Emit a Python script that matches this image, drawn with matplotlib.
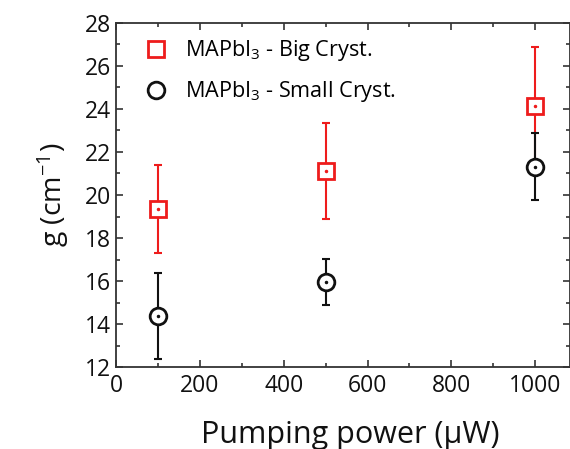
import matplotlib
matplotlib.use("Agg")
import matplotlib.pyplot as plt
from matplotlib.ticker import MultipleLocator

plt.rcParams.update({"font.family": ["Open Sans", "DejaVu Sans"], "mathtext.default": "regular",
                     "xtick.direction": "in", "ytick.direction": "in"})

power = [100, 500, 1000]
g_big = [19.35, 21.12, 24.15]
err_big = [2.05, 2.25, 2.72]
g_small = [14.38, 15.96, 21.32]
err_small = [2.0, 1.08, 1.55]

RED, BLK = "#ee1c1c", "#111111"

fig = plt.figure(figsize=(5.70, 4.49), dpi=100)
ax = fig.add_axes([0.2035, 0.1826, 0.7965, 0.7662])

for y, e, col, mk, lab in [(g_big, err_big, RED, "s", "MAPbI$_3$ - Big Cryst."),
                           (g_small, err_small, BLK, "o", "MAPbI$_3$ - Small Cryst.")]:
    ax.errorbar(power, y, yerr=e, fmt="none", ecolor=col, elinewidth=1.5, capsize=3, capthick=1.5, zorder=2)
    ax.plot(power, y, ls="none", marker=mk, ms=11 if mk == "s" else 12, mfc="white", mec=col, mew=2.0,
            zorder=3, label=lab)
    ax.plot(power, y, ls="none", marker=".", ms=3, color=col, zorder=4)

ax.set_xlim(0, 1083)
ax.set_ylim(12, 28)
ax.xaxis.set_major_locator(MultipleLocator(200)); ax.xaxis.set_minor_locator(MultipleLocator(100))
ax.yaxis.set_major_locator(MultipleLocator(2)); ax.yaxis.set_minor_locator(MultipleLocator(1))
ax.tick_params(which="both", top=True, right=True, labelsize=16.5, width=1.2, color="#333333",
               labelcolor="#111111")
ax.tick_params(which="major", length=5); ax.tick_params(which="minor", length=3)
ax.tick_params(axis="x", pad=5)
for s in ax.spines.values():
    s.set_linewidth(1.3); s.set_color("#333333")

ax.set_xlabel("Pumping power (\u03bcW)", fontsize=22, color="#111111")
ax.xaxis.set_label_coords(0.515, -0.155)
ax.set_ylabel("g (cm$^{-1}$)", fontsize=20.5, labelpad=10, color="#111111")

leg = ax.legend(loc="upper left", bbox_to_anchor=(0.03, 1.0), frameon=False, fontsize=15.6,
                handletextpad=0.85, labelspacing=0.75, borderaxespad=0.3, handlelength=1.0)

fig.savefig("out.png", dpi=100)
